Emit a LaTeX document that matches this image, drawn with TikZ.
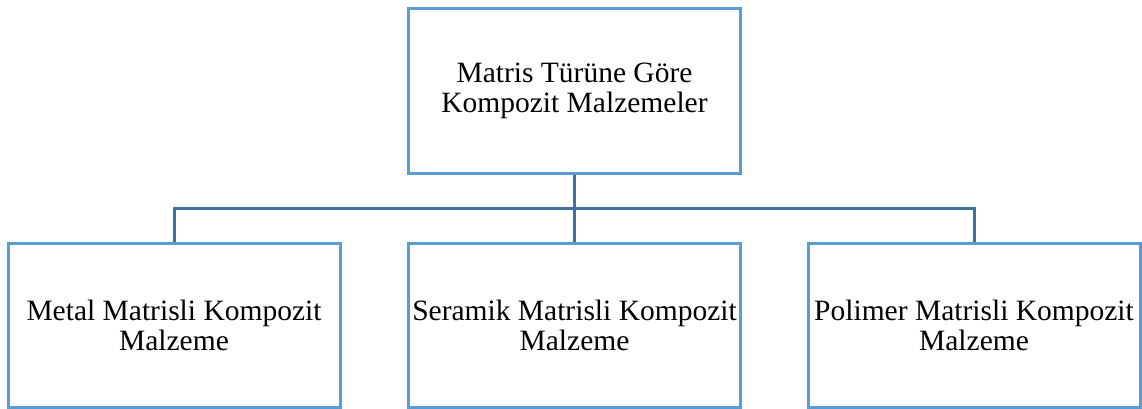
\documentclass[tikz,border=0pt]{standalone}
\usepackage{fontspec}
\setmainfont{Liberation Serif}
\usepackage{tikz}
\usetikzlibrary{positioning}
\definecolor{boxblue}{RGB}{91,155,213}
\definecolor{lineblue}{RGB}{65,113,156}
\tikzset{
  grp/.style={draw=boxblue,line width=1.5pt,fill=white,minimum width=166pt,
    inner sep=0pt,align=center,font=\fontsize{14.75}{15}\selectfont},
  link/.style={draw=lineblue,line width=1.5pt},
}
\begin{document}
\begin{tikzpicture}[x=0.5pt,y=-0.5pt]
  \useasboundingbox (0,0) rectangle (1142,408);
  \node[grp,minimum height=82.5pt] (top) at (574.5,90.5){Matris Türüne Göre\\Kompozit Malzemeler};
  \node[grp,minimum height=82pt] (metal) at (174,325){Metal Matrisli Kompozit\\Malzeme};
  \node[grp,minimum height=82pt] (seramik) at (574.5,325){Seramik Matrisli Kompozit\\Malzeme};
  \node[grp,minimum height=82pt] (polimer) at (974,325){Polimer Matrisli Kompozit\\Malzeme};
  \coordinate (bus) at (574.5,208);
  \draw[link] (top.south) -- (seramik.north);
  \draw[link] (metal.north) -- (metal.north |- bus) -- (polimer.north |- bus) -- (polimer.north);
\end{tikzpicture}
\end{document}
